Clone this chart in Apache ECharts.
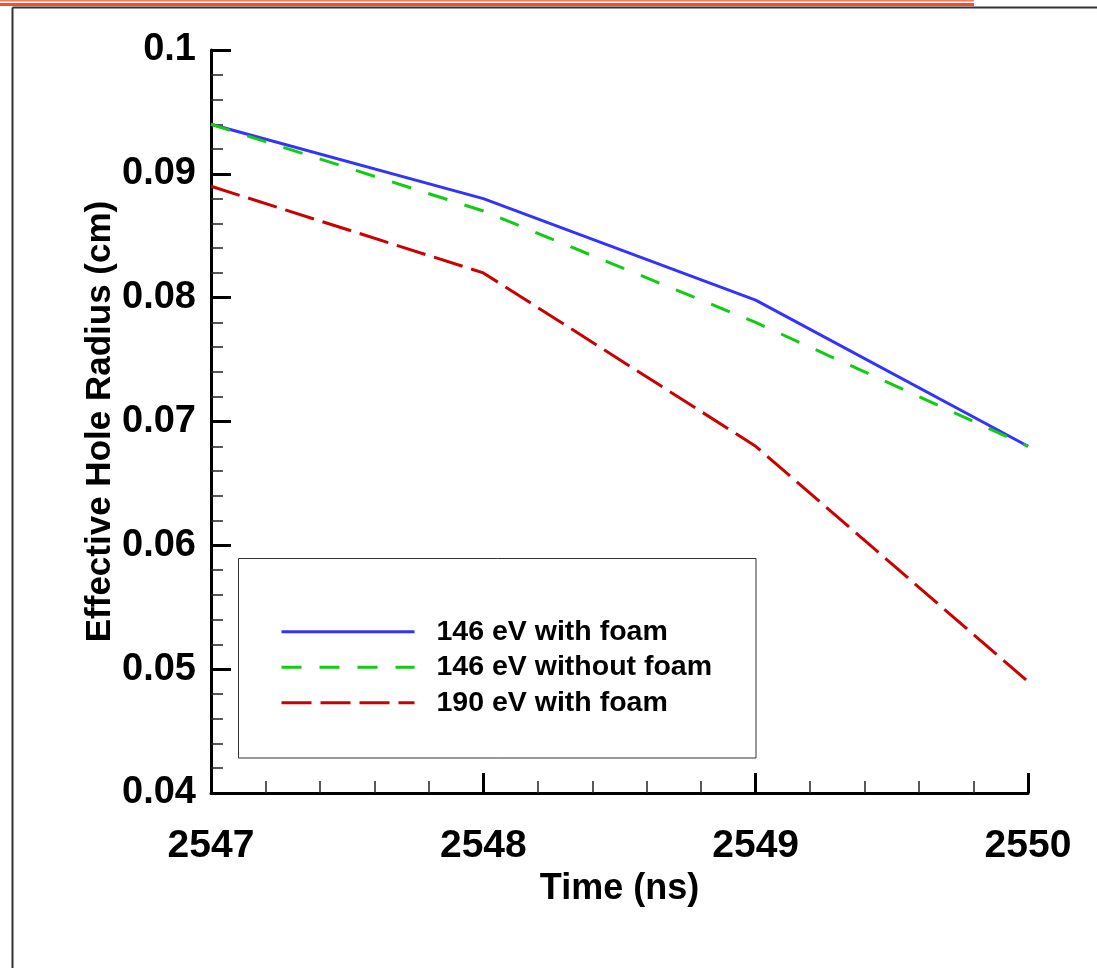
<!DOCTYPE html>
<html>
<head>
<meta charset="utf-8">
<script src="https://cdn.jsdelivr.net/npm/echarts@6/dist/echarts.min.js"></script>
<style>
html,body{margin:0;padding:0;background:#fff;}
#chart{width:1097px;height:968px;}
</style>
</head>
<body>
<div id="chart"></div>
<script>
// ---- data ----
const times = [2547, 2548, 2549, 2550];
const blue146Foam = [0.094, 0.088, 0.0798, 0.068];
const green146NoFoam = [0.094, 0.087, 0.078, 0.068];
const red190Foam = [0.089, 0.082, 0.068, 0.049];
const seriesNames = ['146 eV with foam', '146 eV without foam', '190 eV with foam'];
const xTickLabels = ['2547', '2548', '2549', '2550'];
const yTickLabels = ['0.04', '0.05', '0.06', '0.07', '0.08', '0.09', '0.1'];
const xTitle = 'Time (ns)';
const yTitle = 'Effective Hole Radius (cm)';

const FONT = '"Liberation Sans", Arial, Helvetica, sans-serif';
const pair = (xs, ys) => xs.map((x, i) => [x, ys[i]]);

const chart = echarts.init(document.getElementById('chart'), null, {renderer: 'canvas'});

const axisCommon = {
  axisLine: {show: true, onZero: false, lineStyle: {color: '#000', width: 3}},
  axisTick: {show: true, inside: true, length: 20, lineStyle: {color: '#000', width: 3}},
  minorTick: {show: true, splitNumber: 5, length: 12, lineStyle: {color: '#222', width: 1.5}},
  splitLine: {show: false},
  minorSplitLine: {show: false}
};

const option = {
  animation: false,
  backgroundColor: '#fff',
  grid: {left: 211, right: 69, top: 50, bottom: 175, containLabel: false},
  xAxis: Object.assign({
    type: 'value', min: 2547, max: 2550, interval: 1,
    name: xTitle, nameLocation: 'middle', nameGap: 78, nameMoveOverlap: false,
    nameTextStyle: {fontFamily: FONT, fontWeight: 'bold', fontSize: 36, color: '#000'},
    axisLabel: {
      margin: 34, fontFamily: FONT, fontWeight: 'bold', fontSize: 39, color: '#000',
      formatter: (v, i) => xTickLabels[i]
    }
  }, axisCommon),
  yAxis: Object.assign({
    type: 'value', min: 0.04, max: 0.1, interval: 0.01,
    name: yTitle, nameLocation: 'middle', nameGap: 93, nameMoveOverlap: false,
    nameTextStyle: {fontFamily: FONT, fontWeight: 'bold', fontSize: 35, color: '#000'},
    axisLabel: {
      margin: 15, fontFamily: FONT, fontWeight: 'bold', fontSize: 38, color: '#000',
      formatter: (v, i) => yTickLabels[i]
    }
  }, axisCommon),
  legend: {
    show: true, orient: 'vertical', left: 280, top: 614, padding: 0, itemGap: 0,
    itemWidth: 133, itemHeight: 14,
    itemStyle: {opacity: 0},
    lineStyle: {width: 3},
    textStyle: {fontFamily: FONT, fontWeight: 'bold', fontSize: 28.5, color: '#000', lineHeight: 35.5, padding: [0, 0, 0, 17]},
    data: seriesNames
  },
  graphic: [
    // page decoration
    {type: 'rect', left: 0, top: 0, shape: {width: 974, height: 1.5}, style: {fill: '#ff7a55'}, silent: true},
    {type: 'rect', left: 0, top: 3, shape: {width: 974, height: 3}, style: {fill: '#ff4a22'}, silent: true},
    {type: 'line', shape: {x1: 12.5, y1: 7.5, x2: 1097, y2: 7.5}, style: {stroke: '#333', lineWidth: 2}, silent: true},
    {type: 'line', shape: {x1: 12.5, y1: 7.5, x2: 12.5, y2: 968}, style: {stroke: '#333', lineWidth: 2}, silent: true},
    // legend box
    {type: 'rect', z: 0, shape: {x: 238.5, y: 558.5, width: 517.5, height: 199.5}, style: {fill: '#fff', stroke: '#333', lineWidth: 1}, silent: true}
  ],
  series: [
    {
      name: seriesNames[0], type: 'line', data: pair(times, blue146Foam),
      symbol: 'none', showSymbol: false, color: '#3333ff',
      lineStyle: {color: '#3333ff', width: 3, type: 'solid'}
    },
    {
      name: seriesNames[1], type: 'line', data: pair(times, green146NoFoam),
      symbol: 'none', showSymbol: false, color: '#11cc11',
      lineStyle: {color: '#11cc11', width: 3, type: [20, 18]}
    },
    {
      name: seriesNames[2], type: 'line', data: pair(times, red190Foam),
      symbol: 'none', showSymbol: false, color: '#cc0000',
      lineStyle: {color: '#cc0000', width: 3, type: [30, 9]}
    }
  ]
};
chart.setOption(option);
</script>
</body>
</html>
